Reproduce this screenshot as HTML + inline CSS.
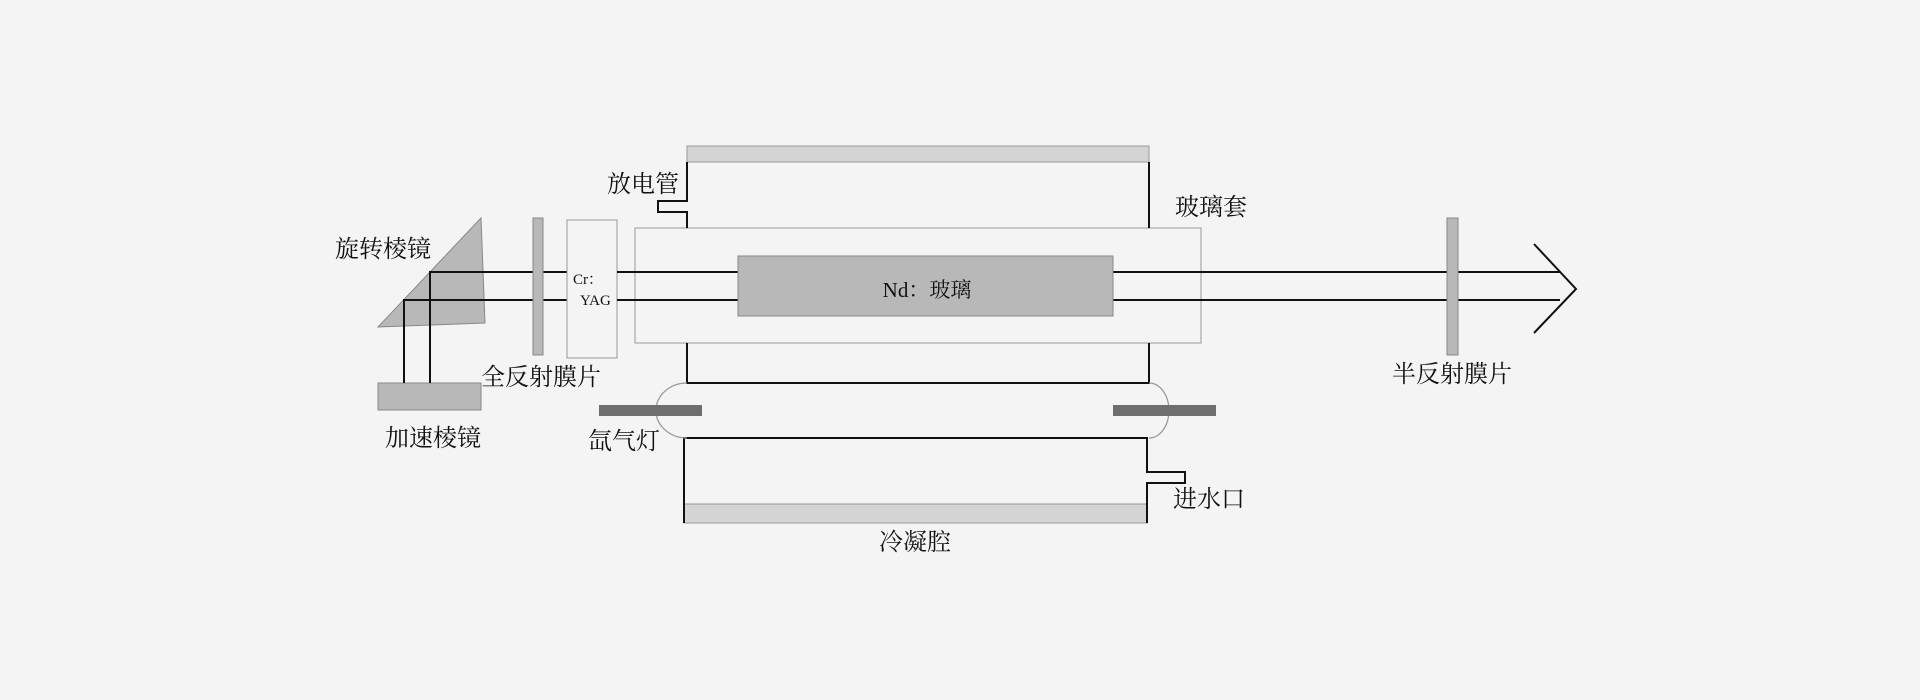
<!DOCTYPE html>
<html><head><meta charset="utf-8"><style>
html,body{margin:0;padding:0;background:#f4f4f4;}
svg{display:block}
text{font-family:"Liberation Serif","Noto Serif CJK SC",serif;fill:#111;}
</style></head><body>
<svg width="1920" height="700" viewBox="0 0 1920 700" xmlns="http://www.w3.org/2000/svg">
<rect width="1920" height="700" fill="#f4f4f4"/>
<!-- rotating prism -->
<polygon points="378,327 481,218 485,323" fill="#b8b8b8" stroke="#888" stroke-width="1"/>
<!-- accelerating prism -->
<rect x="378" y="383" width="103" height="27" fill="#b8b8b8" stroke="#888"/>
<!-- beams -->
<g stroke="#111" stroke-width="2" fill="none">
<polyline points="430,383 430,272 1560,272"/>
<polyline points="404,383 404,300 1560,300"/>
<polyline points="1534,244 1576,289 1534,333"/>
</g>
<!-- full reflector -->
<rect x="533" y="218" width="10" height="137" fill="#b8b8b8" stroke="#888"/>
<!-- Cr:YAG -->
<rect x="567" y="220" width="50" height="138" fill="#f4f4f4" stroke="#999"/>
<text x="573" y="284" font-size="15">Cr：</text>
<text x="580" y="305" font-size="15">YAG</text>
<!-- glass sleeve -->
<rect x="635" y="228" width="566" height="115" fill="#f4f4f4" stroke="#999"/>
<!-- beams within sleeve drawn above -->
<g stroke="#111" stroke-width="2" fill="none">
<line x1="617" y1="272" x2="1560" y2="272"/>
<line x1="617" y1="300" x2="1560" y2="300"/>
</g>
<!-- Nd rod -->
<rect x="738" y="256" width="375" height="60" fill="#b8b8b8" stroke="#888"/>
<text x="927" y="297" font-size="21" text-anchor="middle">Nd：玻璃</text>
<!-- top cooling plate -->
<rect x="687" y="146" width="462" height="16" fill="#d4d4d4" stroke="#999"/>
<!-- bottom cooling plate -->
<rect x="684" y="504" width="463" height="19" fill="#d4d4d4" stroke="#999"/>
<g stroke="#111" stroke-width="2" fill="none">
<polyline points="687,162 687,201 658,201 658,212 687,212 687,228"/>
<line x1="1149" y1="162" x2="1149" y2="228"/>
<polyline points="687,343 687,383 1149,383 1149,343"/>
<polyline points="684,523 684,438 1147,438 1147,472 1185,472 1185,483 1147,483 1147,523"/>
</g>
<!-- lamp ends -->
<path d="M687,383 A31,27.5 0 0 0 687,438" fill="none" stroke="#999" stroke-width="1.3"/>
<path d="M1149,383 A20,27.5 0 0 1 1149,438" fill="none" stroke="#999" stroke-width="1.3"/>
<rect x="599" y="405" width="103" height="11" fill="#6e6e6e"/>
<rect x="1113" y="405" width="103" height="11" fill="#6e6e6e"/>
<!-- half reflector -->
<rect x="1447" y="218" width="11" height="137" fill="#b8b8b8" stroke="#888"/>
<!-- labels -->
<g font-size="24">
<text x="335" y="257">旋转棱镜</text>
<text x="607" y="192">放电管</text>
<text x="481" y="385">全反射膜片</text>
<text x="385" y="446">加速棱镜</text>
<text x="588" y="449">氙气灯</text>
<text x="1175" y="215">玻璃套</text>
<text x="1392" y="382">半反射膜片</text>
<text x="1173" y="507">进水口</text>
<text x="879" y="550">冷凝腔</text>
</g>
</svg>
</body></html>
